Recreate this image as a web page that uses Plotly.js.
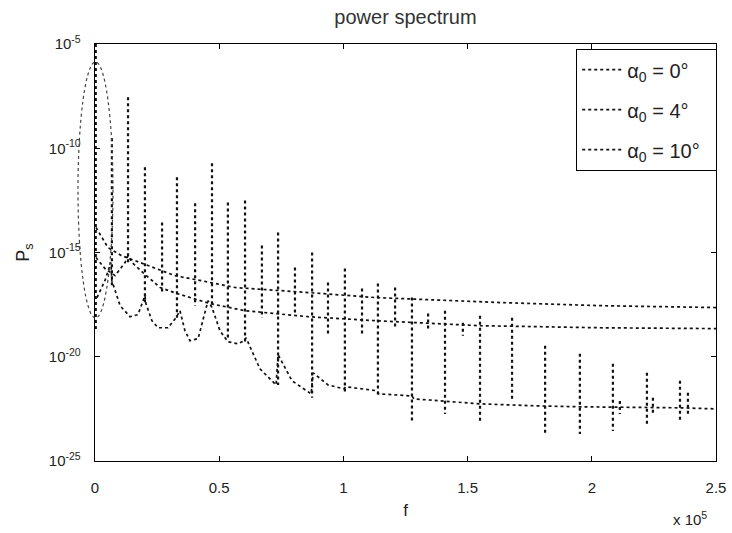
<!DOCTYPE html>
<html><head><meta charset="utf-8">
<script src="https://cdn.plot.ly/plotly-3.0.1.min.js"></script>
<style>html,body{margin:0;padding:0;background:#fff}#chart{width:732px;height:533px}</style>
</head><body><div id="chart"></div>
<script>
// f in units of 1e5; power given as log10 exponents
const labels = ['α<sub>0</sub> = 0°\u00a0\u00a0', 'α<sub>0</sub> = 4°\u00a0\u00a0', 'α<sub>0</sub> = 10°\u00a0\u00a0'];

// top curve
const fA = [0.004,0.052,0.105,0.213,0.322,0.427,0.564,0.858,1.127,1.630,2.033,2.5];
const eA = [-13.80,-14.76,-15.14,-15.63,-16.11,-16.35,-16.68,-16.92,-17.16,-17.40,-17.55,-17.64];

// middle curve
const fB = [0.004,0.040,0.081,0.121,0.133,0.149,0.193,0.262,0.330,0.463,0.604,0.858,1.127,1.550,2.033,2.5];
const eB = [-15.24,-15.77,-16.11,-15.48,-15.14,-15.48,-15.96,-16.68,-16.97,-17.45,-17.79,-18.08,-18.27,-18.51,-18.61,-18.65];
const spikeFB   = [0.003,0.133,0.270,0.403,0.535,0.672,0.805,0.938,1.075,1.208,1.341,1.481];
const spikeTopB = [-5.00,-7.55,-13.56,-12.64,-12.60,-14.66,-15.72,-16.44,-16.73,-16.68,-17.93,-18.37];
const spikeBotB = [-18.75,-15.48,-16.92,-17.55,-19.13,-18.13,-18.03,-18.89,-18.89,-18.61,-18.75,-18.99];

// bottom curve
const fC = [0.008,0.040,0.064,0.068,0.101,0.141,0.173,0.201,0.205,0.229,0.254,0.294,0.326,0.342,0.362,0.382,0.415,0.455,0.471,0.503,0.535,0.576,0.600,0.608,0.664,0.729,0.737,0.793,0.870,0.878,0.938,1.002,1.010,1.135,1.143,1.276,1.284,1.413,1.550,1.791,1.952,2.355,2.5];
const eC = [-17.16,-16.35,-15.48,-16.35,-17.55,-18.08,-17.98,-17.07,-17.45,-18.27,-18.61,-18.61,-18.13,-17.79,-18.75,-19.23,-19.13,-17.31,-17.64,-18.75,-19.28,-19.38,-19.23,-19.09,-20.58,-21.35,-19.90,-21.15,-21.78,-20.77,-21.35,-21.54,-21.44,-21.63,-21.78,-21.88,-22.02,-22.12,-22.26,-22.36,-22.40,-22.45,-22.50];
const spikeFC   = [0.068,0.201,0.330,0.471,0.604,0.737,0.874,1.006,1.139,1.276,1.409,1.550,1.679,1.812,1.952,2.085,2.113,2.222,2.246,2.355,2.387];
const spikeTopC = [-9.52,-10.91,-11.39,-10.72,-12.50,-14.04,-15.00,-15.77,-16.49,-17.16,-17.79,-18.03,-18.13,-19.47,-19.86,-20.34,-22.12,-20.77,-21.97,-21.15,-21.73];
const spikeBotC = [-16.59,-17.45,-18.13,-17.64,-19.38,-21.35,-21.97,-21.78,-21.88,-23.17,-22.74,-23.17,-22.12,-23.65,-23.70,-23.56,-22.74,-23.22,-22.74,-23.08,-22.74];

const yTickExp = [-25,-20,-15,-10,-5];

const p = e => Math.pow(10, e);
function spikes(fs, tops, bots) {
  const x = [], y = [];
  fs.forEach((f, i) => { x.push(f, f, null); y.push(p(tops[i]), p(bots[i]), null); });
  return {x, y};
}
const lineStyle = w => ({color: '#111', width: w, dash: 'dot'});

const sB = spikes(spikeFB, spikeTopB, spikeBotB);
const sC = spikes(spikeFC, spikeTopC, spikeBotC);

const traces = [
  {x: fC, y: eC.map(p), mode: 'lines', name: labels[0], legendgroup: 'g0', line: lineStyle(1.7)},
  {x: sC.x, y: sC.y, mode: 'lines', legendgroup: 'g0', showlegend: false, line: lineStyle(2.2), connectgaps: false},
  {x: fB, y: eB.map(p), mode: 'lines', name: labels[1], legendgroup: 'g1', line: lineStyle(1.7)},
  {x: sB.x, y: sB.y, mode: 'lines', legendgroup: 'g1', showlegend: false, line: lineStyle(2.2), connectgaps: false},
  {x: fA, y: eA.map(p), mode: 'lines', name: labels[2], legendgroup: 'g2', line: lineStyle(1.7)}
];

const font = 'Liberation Sans, Arial, sans-serif';
const layout = {
  width: 732, height: 533,
  margin: {l: 95, r: 16, t: 44, b: 72},
  paper_bgcolor: '#fff', plot_bgcolor: '#fff',
  font: {family: font, color: '#222', size: 14},
  title: {text: 'power spectrum', font: {size: 20, color: '#333'}, x: 0.5, xref: 'paper', xanchor: 'center', y: 0.968, yref: 'container', yanchor: 'middle'},
  xaxis: {
    range: [0, 2.5], tickvals: [0, 0.5, 1, 1.5, 2, 2.5], ticktext: ['0', '0.5', '1', '1.5', '2', '2.5'],
    ticks: 'inside', ticklen: 5, tickcolor: '#000', showline: true, linecolor: '#000', linewidth: 1.3, mirror: 'ticks',
    showgrid: false, zeroline: false, tickfont: {size: 15}, ticklabelstandoff: 13,
    title: {text: 'f', font: {size: 17}, standoff: 8}
  },
  yaxis: {
    type: 'log', range: [-25, -5], tickvals: yTickExp.map(p), ticktext: yTickExp.map(e => '10<sup>' + e + '</sup>'),
    ticks: 'inside', ticklen: 5, tickcolor: '#000', showline: true, linecolor: '#000', linewidth: 1.3, mirror: 'ticks',
    showgrid: false, zeroline: false, tickfont: {size: 15}, ticklabelstandoff: 10,
    title: {text: 'P<sub>s</sub>', font: {size: 18}, standoff: 14}
  },
  legend: {
    x: 0.7746, y: 0.988, xanchor: 'left', yanchor: 'top', bgcolor: '#fff', bordercolor: '#000', borderwidth: 1.2,
    font: {size: 20, color: '#222'}, itemwidth: 40, traceorder: 'grouped', tracegroupgap: 11
  },
  shapes: [{type: 'circle', xref: 'paper', yref: 'paper', x0: -0.0274, x1: 0.029, y0: 0.343, y1: 0.957,
    line: {color: '#444', width: 1.2, dash: 'dot'}}],
  annotations: [{xref: 'paper', yref: 'paper', x: 0.958, y: -0.137, xanchor: 'center', yanchor: 'middle', showarrow: false,
    text: 'x 10<sup>5</sup>', font: {size: 15, color: '#222'}}]
};
Plotly.newPlot('chart', traces, layout, {displayModeBar: false, staticPlot: true});
</script></body></html>
